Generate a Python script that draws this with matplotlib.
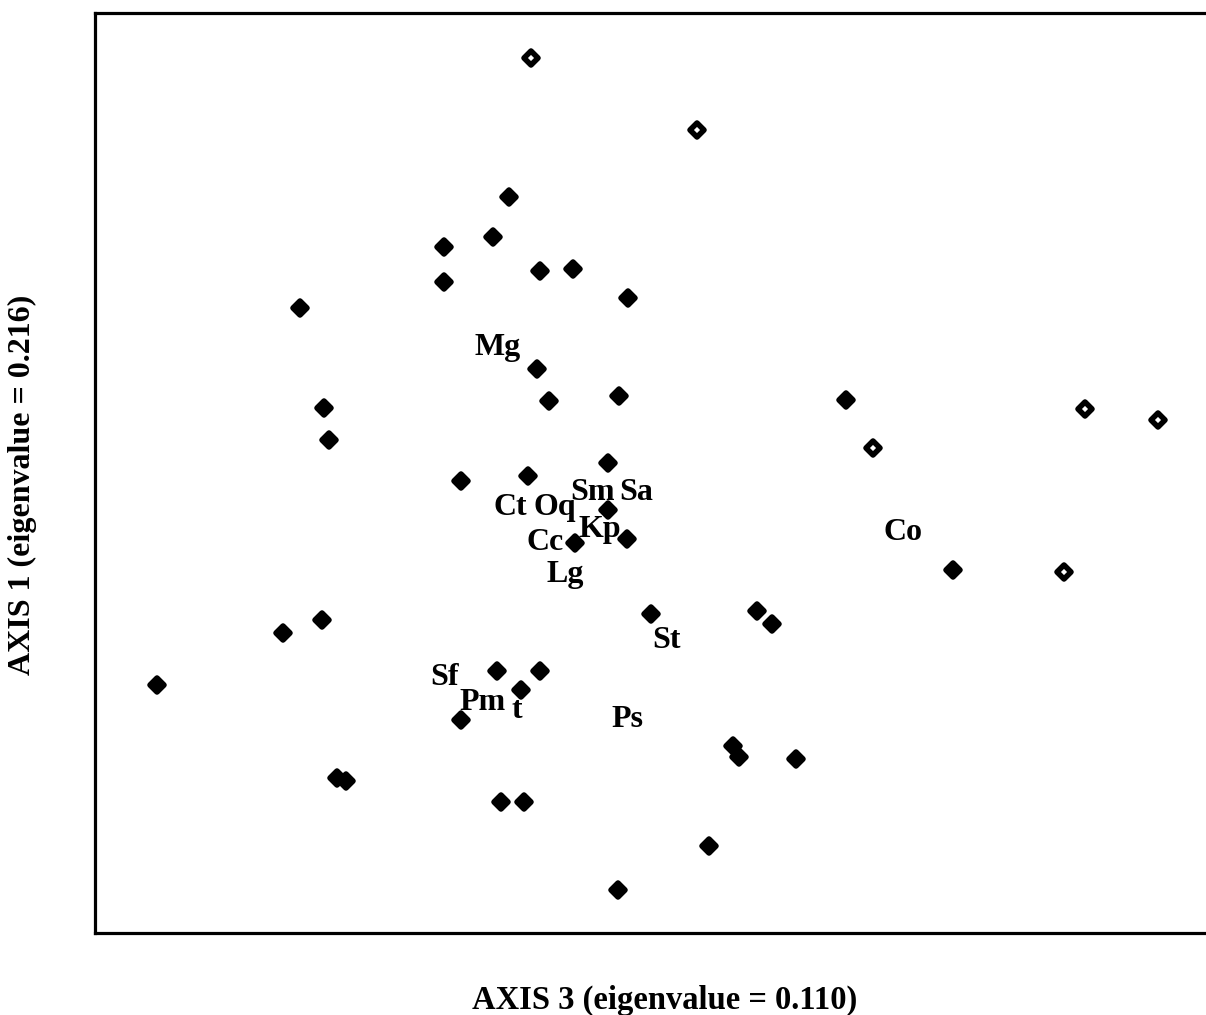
import matplotlib.pyplot as plt
from matplotlib.markers import MarkerStyle

# site scores (axis 3, axis 1), filled symbols
site_x = [414, 349, 398, 349, 445, 478, 533, 205, 442, 454, 524, 229, 234, 751,
          366, 433, 513, 513, 480, 532, 858, 556, 662, 677, 188, 227, 62, 402,
          445, 426, 366, 638, 644, 701, 242, 251, 406, 429, 614, 523]
site_y = [736, 686, 696, 651, 662, 664, 635, 625, 564, 532, 537, 525, 493, 533,
          452, 457, 470, 423, 390, 394, 363, 319, 322, 309, 300, 313, 248, 262,
          262, 243, 213, 187, 176, 174, 155, 152, 131, 131, 87, 43]

# outlying sites, open symbols
out_x = [436, 602, 778, 990, 1063, 969]
out_y = [875, 803, 485, 524, 513, 361]

# species codes and their scores
species = ['Mg', 'Ct', 'Oq', 'Sm', 'Sa', 'Kp', 'Cc', 'Lg', 'St', 'Ps', 'Sf', 'Pm', 't', 'Co']
sp_x = [403, 415, 460, 498, 541, 505, 450, 470, 572, 532, 350, 388, 422, 808]
sp_y = [578, 418, 418, 433, 433, 396, 383, 351, 285, 206, 248, 223, 215, 393]

plt.rcParams['font.family'] = ['Liberation Serif', 'DejaVu Serif']
plt.rcParams['font.weight'] = 'bold'

fig = plt.figure(figsize=(12.06, 10.15), dpi=100)
ax = fig.add_axes([95/1206, 82/1015, 1 - 95/1206, 920/1015])

# rounded diamonds, like the old plotter dots
mk = MarkerStyle('D', joinstyle='round')
ax.plot(site_x, site_y, linestyle='none', marker=mk, markersize=7.5,
        color='black', markeredgewidth=4)
ax.plot(out_x, out_y, linestyle='none', marker=mk, markersize=7,
        markerfacecolor='white', markeredgecolor='black', markeredgewidth=4)

for name, x, y in zip(species, sp_x, sp_y):
    ax.text(x, y, name, ha='center', va='baseline', fontsize=23, fontweight='bold')

ax.set_xlim(0, 1111)
ax.set_ylim(0, 920)
ax.set_xticks([])
ax.set_yticks([])
ax.spines['right'].set_visible(False)
for s in ['left', 'top', 'bottom']:
    ax.spines[s].set_linewidth(2.3)

fig.text(665/1206, 1 - 1000/1015, 'AXIS 3 (eigenvalue = 0.110)', ha='center', va='center',
         fontsize=23.5, fontweight='bold')
fig.text(22/1206, 1 - 485/1015, 'AXIS 1 (eigenvalue = 0.216)', ha='center', va='center',
         rotation=90, fontsize=23, fontweight='bold')

fig.savefig('out.png', dpi=100)
